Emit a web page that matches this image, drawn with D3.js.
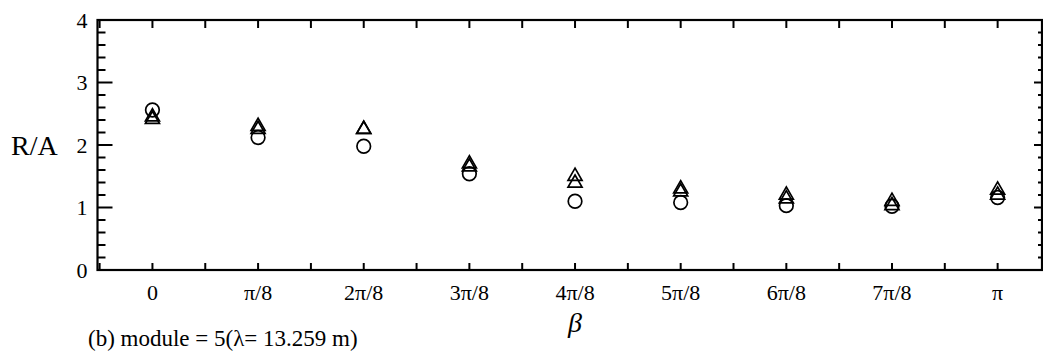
<!DOCTYPE html>
<html>
<head>
<meta charset="utf-8">
<script src="https://cdn.jsdelivr.net/npm/d3@7"></script>
<style>
  body { margin: 0; background: #fff; }
  text { font-family: "Liberation Serif", "Times New Roman", serif; fill: #000; }
</style>
</head>
<body>
<svg id="chart" width="1043" height="361"></svg>
<script>
// beta in units of pi/8
var betaSteps = [0, 1, 2, 3, 4, 5, 6, 7, 8];
var betaLabels = ["0", "π/8", "2π/8", "3π/8", "4π/8", "5π/8", "6π/8", "7π/8", "π"];
var circleValues = [2.56, 2.12, 1.98, 1.54, 1.10, 1.08, 1.03, 1.02, 1.16];
var triangleA = [2.45, 2.30, 2.25, 1.70, 1.50, 1.30, 1.20, 1.10, 1.28];
var triangleB = [2.41, 2.25, 2.25, 1.65, 1.39, 1.25, 1.14, 1.03, 1.20];
var yTicks = [0, 1, 2, 3, 4];

var svg = d3.select("#chart");
var plotLeft = 97.5, plotRight = 1042, plotTop = 20, plotBottom = 270;

var x = d3.scaleLinear().domain([-0.52, 8.42]).range([plotLeft, plotRight]);
var y = d3.scaleLinear().domain([0, 4]).range([plotBottom, plotTop]);

var xMinor = d3.range(-0.5, 8.5, 0.5).filter(function (d) { return d > -0.52 && d < 8.42; });
var yMinor = d3.range(0, 4.01, 0.2);

var g = svg.append("g");

// frame
g.append("rect")
  .attr("x", plotLeft).attr("y", plotTop)
  .attr("width", plotRight - plotLeft).attr("height", plotBottom - plotTop)
  .attr("fill", "none").attr("stroke", "#000").attr("stroke-width", 2.2);

// x ticks, bottom (up) and top (down)
g.selectAll(".xtb").data(xMinor).enter().append("line")
  .attr("x1", function (d) { return x(d); }).attr("x2", function (d) { return x(d); })
  .attr("y1", plotBottom).attr("y2", plotBottom - 7)
  .attr("stroke", "#000").attr("stroke-width", 2);
g.selectAll(".xtt").data(xMinor).enter().append("line")
  .attr("x1", function (d) { return x(d); }).attr("x2", function (d) { return x(d); })
  .attr("y1", plotTop).attr("y2", plotTop + 8)
  .attr("stroke", "#000").attr("stroke-width", 2);

// y ticks, left (right-pointing) and right (left-pointing)
function isMajor(d) { return Math.abs(d - Math.round(d)) < 1e-6; }
g.selectAll(".ytl").data(yMinor).enter().append("line")
  .attr("x1", plotLeft).attr("x2", function (d) { return plotLeft + (isMajor(d) ? 15 : 8); })
  .attr("y1", function (d) { return y(d); }).attr("y2", function (d) { return y(d); })
  .attr("stroke", "#000").attr("stroke-width", 2);
g.selectAll(".ytr").data(yMinor).enter().append("line")
  .attr("x1", plotRight).attr("x2", function (d) { return plotRight - (isMajor(d) ? 8 : 4); })
  .attr("y1", function (d) { return y(d); }).attr("y2", function (d) { return y(d); })
  .attr("stroke", "#000").attr("stroke-width", 2);

// tick labels
g.selectAll(".ylab").data(yTicks).enter().append("text")
  .attr("x", plotLeft - 10).attr("y", function (d) { return y(d) + 7.5; })
  .attr("text-anchor", "end").attr("font-size", 22)
  .text(function (d) { return d; });

g.selectAll(".xlab").data(betaSteps).enter().append("text")
  .attr("x", function (d) { return x(d); }).attr("y", 300)
  .attr("text-anchor", "middle").attr("font-size", 22)
  .text(function (d, i) { return betaLabels[i]; });

// axis titles
svg.append("text").attr("x", 11).attr("y", 155)
  .attr("font-size", 28).text("R/A");
svg.append("text").attr("x", x(4)).attr("y", 332)
  .attr("text-anchor", "middle").attr("font-size", 28).attr("font-style", "italic")
  .text("β");
svg.append("text").attr("x", 88).attr("y", 346)
  .attr("font-size", 23).text("(b) module = 5(λ= 13.259 m)");

// markers
var tri = d3.symbol().type(d3.symbolTriangle).size(85);

function drawTriangles(values) {
  g.selectAll(null).data(values).enter().append("path")
    .attr("d", tri)
    .attr("transform", function (d, i) { return "translate(" + x(betaSteps[i]) + "," + y(d) + ")"; })
    .attr("fill", "none").attr("stroke", "#000").attr("stroke-width", 1.7);
}
drawTriangles(triangleA);
drawTriangles(triangleB);

g.selectAll(".circ").data(circleValues).enter().append("circle")
  .attr("cx", function (d, i) { return x(betaSteps[i]); })
  .attr("cy", function (d) { return y(d); })
  .attr("r", 6.8)
  .attr("fill", "none").attr("stroke", "#000").attr("stroke-width", 1.7);
</script>
</body>
</html>
